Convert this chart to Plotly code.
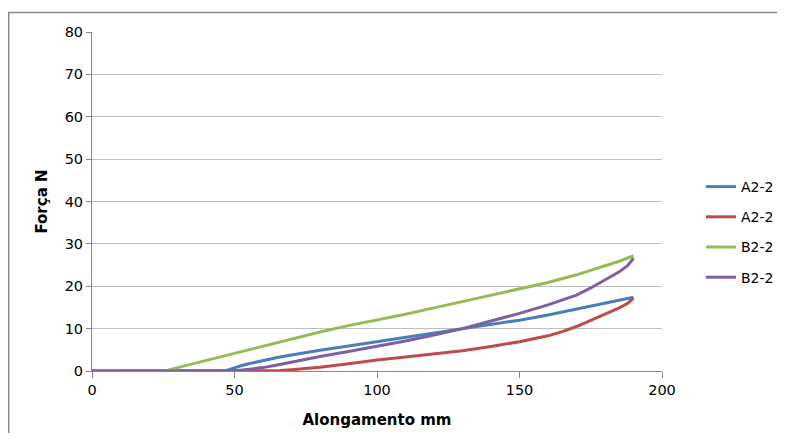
import plotly.graph_objects as go

# ---- data ----
a1_x = [0, 46.6, 48, 50, 52.5, 55, 57.5, 60, 65, 70, 75, 80, 90, 100, 110, 120, 130, 140, 150, 160, 170, 180, 185, 190]
a1_y = [0, 0, 0.3, 0.8, 1.3, 1.7, 2.1, 2.5, 3.2, 3.8, 4.4, 4.9, 5.9, 6.9, 7.9, 8.9, 9.9, 10.9, 12.0, 13.2, 14.6, 16.0, 16.8, 17.4]

a2_x = [0, 63, 66, 70, 75, 80, 90, 100, 110, 120, 130, 140, 150, 160, 165, 170, 175, 180, 185, 188, 190]
a2_y = [0, 0, 0.1, 0.3, 0.6, 0.9, 1.7, 2.6, 3.3, 4.0, 4.8, 5.8, 6.9, 8.3, 9.3, 10.5, 11.9, 13.4, 14.9, 16.0, 17.2]

b1_x = [0, 25.6, 30, 40, 50, 60, 70, 80, 90, 100, 110, 120, 130, 140, 150, 160, 170, 180, 185, 190]
b1_y = [0, 0, 0.8, 2.5, 4.2, 5.9, 7.6, 9.2, 10.7, 12.0, 13.4, 14.9, 16.4, 17.9, 19.3, 20.9, 22.7, 24.8, 25.9, 27.2]

b2_x = [0, 49, 52, 55, 60, 65, 70, 80, 90, 100, 110, 120, 130, 140, 150, 160, 165, 170, 175, 180, 185, 188, 190]
b2_y = [0, 0, 0.2, 0.4, 0.8, 1.4, 2.1, 3.4, 4.6, 5.8, 7.1, 8.5, 10.0, 11.8, 13.6, 15.6, 16.7, 17.9, 19.6, 21.4, 23.4, 24.9, 26.6]

series_names = ["A2-2", "A2-2", "B2-2", "B2-2"]
series_colors = ["#4A7EBB", "#BE4B48", "#98B954", "#7D60A0"]

x_ticks = [0, 50, 100, 150, 200]
y_ticks = [0, 10, 20, 30, 40, 50, 60, 70, 80]

FONT = "DejaVu Sans"

# page has an 8px body margin; figure is sized so it fits the 785x441 window
W, H = 777, 425
L, R, T, B = 84, 123, 24, 62
PW, PH = W - L - R, H - T - B

fig = go.Figure()
data = [(a1_x, a1_y), (a2_x, a2_y), (b1_x, b1_y), (b2_x, b2_y)]
for i, ((xs, ys), name, col) in enumerate(zip(data, series_names, series_colors)):
    fig.add_trace(go.Scatter(
        x=xs, y=ys, mode="lines", name=name, legendgroup=f"g{i}",
        line=dict(color=col, width=3),
    ))

def px_x(p):  # figure pixel -> paper x
    return (p - L) / PW

def px_y(p):  # figure pixel (from top) -> paper y
    return (H - B - p) / PH

fig.update_layout(
    width=W, height=H,
    margin=dict(l=L, r=R, t=T, b=B),
    paper_bgcolor="white", plot_bgcolor="white",
    font=dict(family=FONT, size=14, color="#000000"),
    showlegend=True,
    legend=dict(
        xref="container", yref="container",
        x=693 / W, y=1 - 163 / H, xanchor="left", yanchor="top",
        font=dict(family=FONT, size=14, color="#000000"),
        tracegroupgap=9, itemwidth=30,
        bgcolor="rgba(0,0,0,0)",
    ),
    xaxis=dict(
        range=[0, 200], tickvals=x_ticks, ticktext=[str(v) for v in x_ticks],
        showgrid=False, zeroline=False,
        showline=True, linecolor="#868686", linewidth=1,
        ticks="outside", ticklen=6, tickcolor="#868686",
        tickfont=dict(family=FONT, size=14.5),
        title=dict(text="<b>Alongamento mm</b>", font=dict(family=FONT, size=15), standoff=17),
        fixedrange=True, automargin=False,
    ),
    yaxis=dict(
        range=[0, 80], tickvals=y_ticks, ticktext=[str(v) for v in y_ticks],
        showgrid=True, gridcolor="#BFBFBF", gridwidth=1, zeroline=False,
        showline=True, linecolor="#868686", linewidth=1,
        ticks="outside", ticklen=5, tickcolor="#868686",
        tickfont=dict(family=FONT, size=14.5),
        title=dict(text="<b>Força N</b>", font=dict(family=FONT, size=15), standoff=13),
        fixedrange=True, automargin=False,
    ),
    shapes=[
        dict(type="line", xref="paper", yref="paper",
             x0=px_x(0), x1=px_x(W + 5), y0=px_y(4.5), y1=px_y(4.5),
             line=dict(color="#8A8A8A", width=1.5), layer="below"),
        dict(type="line", xref="paper", yref="paper",
             x0=px_x(0.75), x1=px_x(0.75), y0=px_y(4.5), y1=px_y(H + 5),
             line=dict(color="#8A8A8A", width=1.5), layer="below"),
    ],
)

fig.write_html("out.html")
